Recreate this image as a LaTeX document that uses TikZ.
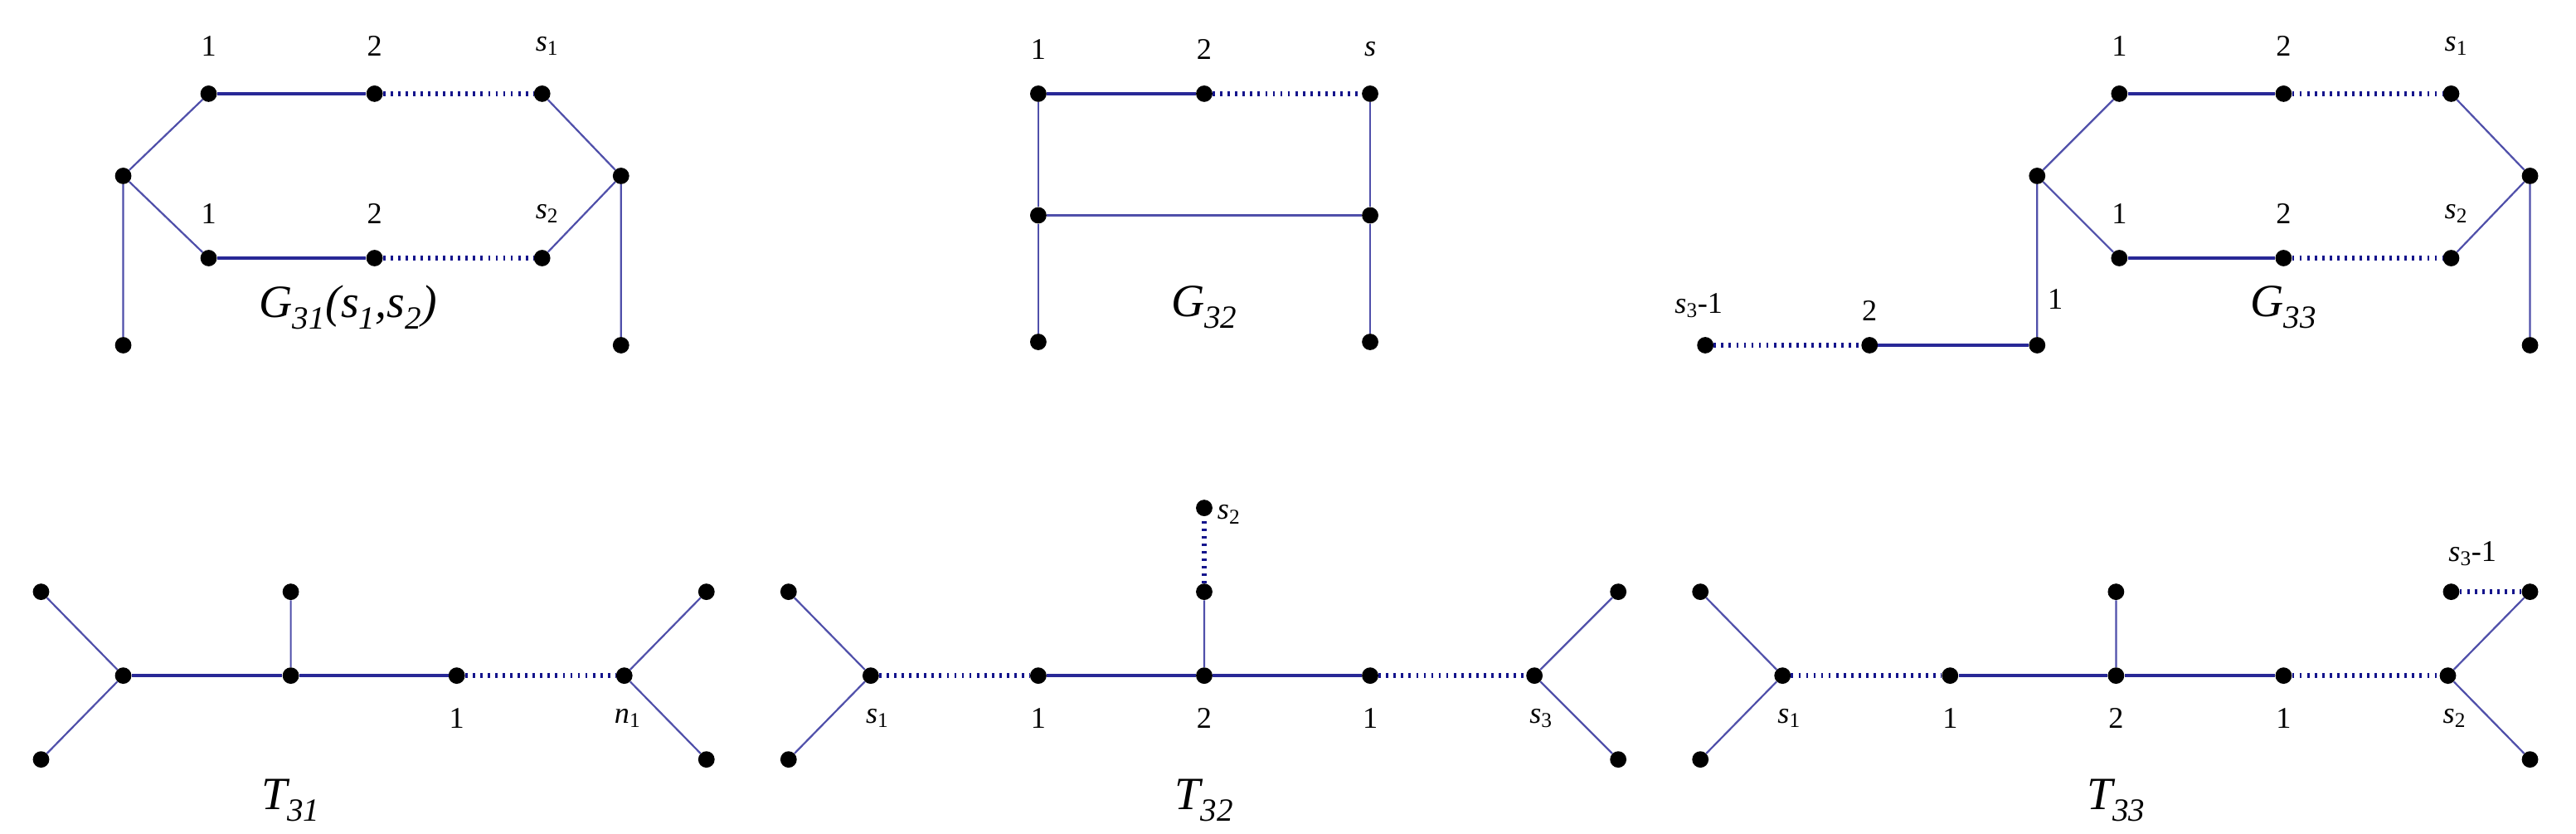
\documentclass[tikz,border=0pt]{standalone}
\usepackage{fontspec}
\setmainfont{Liberation Serif}
\newcommand{\si}[1]{\textit{s}\textsubscript{#1}}
\begin{document}
\begin{tikzpicture}[x=0.5mm,y=-0.5mm,
 v/.style={circle,fill=black,inner sep=0pt,minimum size=5mm},
 e/.style={draw={rgb,255:red,80;green,80;blue,170},line width=1.6pt},
 eh/.style={draw={rgb,255:red,40;green,40;blue,150},line width=2.4pt},
 dt/.style={draw={rgb,255:red,20;green,20;blue,140},line width=4pt,dash pattern=on 2pt off 4.5pt},
 lb/.style={font=\fontsize{26}{30}\selectfont},
 captxt/.style={font=\fontsize{40}{46}\selectfont\itshape}]
\useasboundingbox (0,0) rectangle (1568,507);
% G31
\foreach \n/\x/\y in {a/127/57,b/228/57,c/330/57,d/75/107,f/378/107,g/127/157,h/228/157,i/330/157,j/75/210,k/378/210}
  \node[v] (A\n) at (\x,\y) {};
\draw[e] (Ad)--(Aa) (Ac)--(Af) (Ad)--(Ag) (Ai)--(Af) (Ad)--(Aj) (Af)--(Ak);
\draw[eh] (Aa)--(Ab) (Ag)--(Ah);
\draw[dt] (Ab)--(Ac) (Ah)--(Ai);
\node[lb] (l1) at (127,28) {1}; \node[lb] (l2) at (228,28) {2}; \node[lb] (l3) at (333,28) {\si{1}};
\node[lb] (l4) at (127,130) {1}; \node[lb] (l5) at (228,130) {2}; \node[lb] (l6) at (333,130) {\si{2}};
\node[captxt] (c1) at (212,187) {G\textsubscript{31}(s\textsubscript{1},s\textsubscript{2})};
% G32
\foreach \n/\x/\y in {a/632/57,b/733/57,c/834/57,d/632/131,f/834/131,g/632/208,h/834/208}
  \node[v] (B\n) at (\x,\y) {};
\draw[e] (Ba)--(Bd)--(Bg) (Bc)--(Bf)--(Bh) (Bd)--(Bf);
\draw[eh] (Ba)--(Bb);
\draw[dt] (Bb)--(Bc);
\node[lb] (m1) at (632,30) {1}; \node[lb] (m2) at (733,30) {2}; \node[lb] (m3) at (834,30) {\textit{s}};
\node[captxt] (c2) at (733,187) {G\textsubscript{32}};
% G33
\foreach \n/\x/\y in {a/1290/57,b/1390/57,c/1492/57,d/1240/107,f/1540/107,g/1290/157,h/1390/157,i/1492/157,j/1240/210,k/1540/210,m/1138/210,n/1038/210}
  \node[v] (C\n) at (\x,\y) {};
\draw[e] (Cd)--(Ca) (Cc)--(Cf) (Cd)--(Cg) (Ci)--(Cf) (Cd)--(Cj) (Cf)--(Ck);
\draw[eh] (Ca)--(Cb) (Cg)--(Ch) (Cm)--(Cj);
\draw[dt] (Cb)--(Cc) (Ch)--(Ci) (Cn)--(Cm);
\node[lb] (n1) at (1290,28) {1}; \node[lb] (n2) at (1390,28) {2}; \node[lb] (n3) at (1495,28) {\si{1}};
\node[lb] (n4) at (1290,130) {1}; \node[lb] (n5) at (1390,130) {2}; \node[lb] (n6) at (1495,130) {\si{2}};
\node[lb] (n7) at (1034,186) {\si{3}-1}; \node[lb] (n8) at (1138,189) {2}; \node[lb] (n9) at (1251,182) {1};
\node[captxt] (c3) at (1390,187) {G\textsubscript{33}};
% T31
\foreach \n/\x/\y in {a/75/411,b/177/411,c/278/411,d/380/411,f/25/360,g/25/462,h/177/360,i/430/360,j/430/462}
  \node[v] (D\n) at (\x,\y) {};
\draw[e] (Df)--(Da)--(Dg) (Dh)--(Db) (Di)--(Dd)--(Dj);
\draw[eh] (Da)--(Db)--(Dc);
\draw[dt] (Dc)--(Dd);
\node[lb] (o1) at (278,437) {1}; \node[lb] (o2) at (382,437) {\textit{n}\textsubscript{1}};
\node[captxt] (c4) at (177,487) {T\textsubscript{31}};
% T32
\foreach \n/\x/\y in {a/530/411,b/632/411,c/733/411,d/834/411,f/934/411,g/480/360,h/480/462,i/985/360,j/985/462,k/733/360,m/733/309}
  \node[v] (E\n) at (\x,\y) {};
\draw[e] (Eg)--(Ea)--(Eh) (Ei)--(Ef)--(Ej) (Ek)--(Ec);
\draw[eh] (Eb)--(Ec)--(Ed);
\draw[dt] (Ea)--(Eb) (Ed)--(Ef) (Ek)--(Em);
\node[lb] (p1) at (534,437) {\si{1}}; \node[lb] (p2) at (632,437) {1}; \node[lb] (p3) at (733,437) {2};
\node[lb] (p4) at (834,437) {1}; \node[lb] (p5) at (938,437) {\si{3}}; \node[lb] (p6) at (748,313) {\si{2}};
\node[captxt] (c5) at (733,487) {T\textsubscript{32}};
% T33
\foreach \n/\x/\y in {a/1085/411,b/1187/411,c/1288/411,d/1390/411,f/1490/411,g/1035/360,h/1035/462,i/1540/360,j/1540/462,k/1288/360,m/1492/360}
  \node[v] (F\n) at (\x,\y) {};
\draw[e] (Fg)--(Fa)--(Fh) (Fi)--(Ff)--(Fj) (Fk)--(Fc);
\draw[eh] (Fb)--(Fc)--(Fd);
\draw[dt] (Fa)--(Fb) (Fd)--(Ff) (Fm)--(Fi);
\node[lb] (q1) at (1089,437) {\si{1}}; \node[lb] (q2) at (1187,437) {1}; \node[lb] (q3) at (1288,437) {2};
\node[lb] (q4) at (1390,437) {1}; \node[lb] (q5) at (1494,437) {\si{2}}; \node[lb] (q6) at (1505,337) {\si{3}-1};
\node[captxt] (c6) at (1288,487) {T\textsubscript{33}};
\end{tikzpicture}
\end{document}
